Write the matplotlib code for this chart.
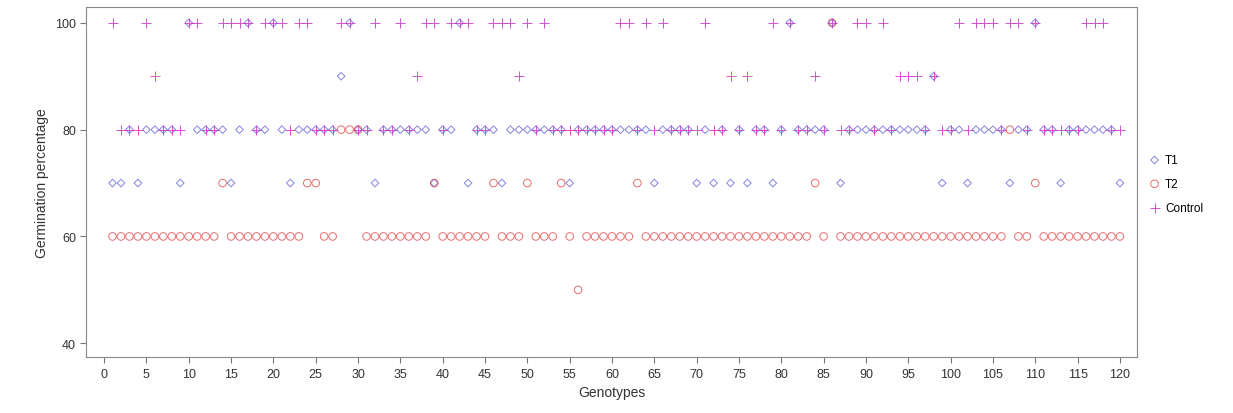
import numpy as np
import matplotlib
matplotlib.use("Agg")
import matplotlib.pyplot as plt

plt.rcParams['font.family'] = ['Liberation Sans', 'DejaVu Sans']

# genotypes 1..120
genotypes = np.arange(1, 121)

# Control : mostly 80, some 100 / 90
control_100 = [1, 5, 10, 11, 14, 15, 16, 17, 19, 20, 21, 23, 24, 28, 29, 32, 35, 38, 39,
               41, 42, 43, 46, 47, 48, 50, 52, 61, 62, 64, 66, 71, 79, 81, 86, 89, 90,
               92, 101, 103, 104, 105, 107, 108, 110, 116, 117, 118]
control_90 = [6, 37, 49, 74, 76, 84, 94, 95, 96, 98]

# T1 : mostly 80
t1_70 = [1, 2, 4, 9, 15, 22, 32, 39, 43, 47, 55, 65, 70, 72, 74, 76, 79, 87,
         99, 102, 107, 113, 120]
t1_90 = [28, 98]
t1_100 = [10, 17, 20, 29, 42, 81, 86, 110]

# T2 : mostly 60
t2_50 = [56]
t2_70 = [14, 24, 25, 39, 46, 50, 54, 63, 84, 110]
t2_80 = [28, 29, 30, 107]
t2_100 = [86]

control = np.full(120, 80.0)
t1 = np.full(120, 80.0)
t2 = np.full(120, 60.0)
for g in control_100:
    control[g - 1] = 100
for g in control_90:
    control[g - 1] = 90
for g in t1_70:
    t1[g - 1] = 70
for g in t1_90:
    t1[g - 1] = 90
for g in t1_100:
    t1[g - 1] = 100
for g in t2_50:
    t2[g - 1] = 50
for g in t2_70:
    t2[g - 1] = 70
for g in t2_80:
    t2[g - 1] = 80
for g in t2_100:
    t2[g - 1] = 100

fig = plt.figure(figsize=(12.33, 4.14), dpi=100)
ax = fig.add_axes([0.070, 0.135, 0.852, 0.846])

ax.scatter(genotypes, t1, marker="D", s=15, facecolors="none", edgecolors="#5a5ad8",
           linewidths=0.7, alpha=0.75, label="T1")
ax.scatter(genotypes, t2, marker="o", s=30, facecolors="none", edgecolors="#e03c3c",
           linewidths=0.7, alpha=0.75, label="T2")
ax.scatter(genotypes, control, marker="+", s=45, color="#cc33cc",
           linewidths=0.7, alpha=0.85, label="Control")

ax.set_xlim(-2.1, 122)
ax.set_ylim(37.4, 103)
ax.set_xticks(np.arange(0, 121, 5))
ax.set_yticks([40, 60, 80, 100])
ax.tick_params(labelsize=9, colors="#333333", length=4, color="#777777")
for s in ax.spines.values():
    s.set_color("#888888")

ax.set_xlabel("Genotypes", fontsize=10, color="#333333")
ax.set_ylabel("Germination percentage", fontsize=10, color="#333333")

ax.legend(loc="upper left", bbox_to_anchor=(1.0, 0.61), frameon=False, fontsize=8.5,
          handletextpad=0.3, labelspacing=1.0, handlelength=1.2)

fig.savefig("out.png", dpi=100)
